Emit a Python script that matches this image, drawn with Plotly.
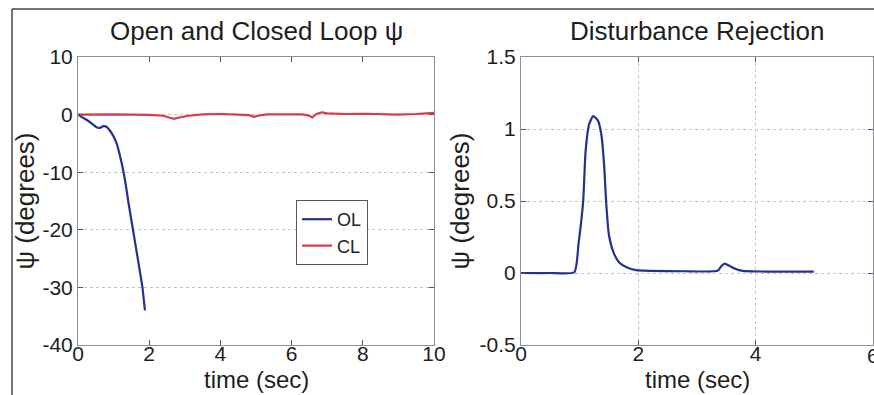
import plotly.graph_objects as go

# ---- data ----
ol_t = [0, 0.24, 0.4, 0.52, 0.62, 0.71, 0.8, 0.9, 1.0, 1.09, 1.18, 1.27, 1.35, 1.41, 1.48, 1.55, 1.62, 1.69, 1.75, 1.81, 1.88]
ol_y = [0, -0.9, -1.6, -2.2, -2.3, -2.0, -2.1, -2.8, -3.8, -5.1, -7.2, -9.7, -12.5, -15, -17.6, -20.2, -22.8, -25.4, -27.7, -30, -34]

cl_t = [0, 1, 2, 2.4, 2.6, 2.7, 2.85, 3.1, 3.5, 4, 4.5, 4.8, 4.95, 5.05, 5.3, 5.8, 6.3, 6.5, 6.58, 6.7, 6.85, 7.0, 7.5, 8, 8.5, 9, 9.5, 10]
cl_y = [0, 0.05, -0.05, -0.2, -0.6, -0.75, -0.5, -0.2, 0.05, 0.1, 0, -0.1, -0.4, -0.2, 0.05, 0.1, 0.05, -0.2, -0.5, 0.1, 0.4, 0.2, 0.1, 0.15, 0.05, 0.0, 0.1, 0.3]

dr_t = [0, 0.5, 0.91, 0.98, 1.06, 1.1, 1.16, 1.23, 1.31, 1.37, 1.42, 1.45, 1.5, 1.58, 1.67, 1.8, 1.96, 2.2, 2.8, 3.35, 3.42, 3.47, 3.55, 3.65, 3.78, 4.2, 4.99]
dr_y = [0, 0, 0.005, 0.2, 0.5, 0.84, 1.03, 1.09, 1.06, 0.96, 0.73, 0.5, 0.26, 0.14, 0.075, 0.04, 0.02, 0.015, 0.012, 0.015, 0.05, 0.065, 0.05, 0.03, 0.015, 0.01, 0.01]

left_xticks = [0, 2, 4, 6, 8, 10]
left_xticklabels = ["0", "2", "4", "6", "8", "10"]
left_yticks = [-40, -30, -20, -10, 0, 10]
left_yticklabels = ["-40", "-30", "-20", "-10", "0", "10"]
right_xticks = [0, 2, 4, 6]
right_xticklabels = ["0", "2", "4", "6"]
right_yticks = [-0.5, 0, 0.5, 1, 1.5]
right_yticklabels = ["-0.5", "0", "0.5", "1", "1.5"]

left_title = "Open and Closed Loop ψ"
right_title = "Disturbance Rejection"
xlabel = "time (sec)"
ylabel = "ψ (degrees)"

BLUE = "#27318c"
RED = "#d8394c"
FONT = "Liberation Sans, Arial, sans-serif"
TXT = "#1e1e1e"

fig = go.Figure()
fig.add_trace(go.Scatter(x=ol_t, y=ol_y, mode="lines", name="OL",
                         line=dict(color=BLUE, width=2.2, shape="spline", smoothing=0.5),
                         xaxis="x", yaxis="y"))
fig.add_trace(go.Scatter(x=cl_t, y=cl_y, mode="lines", name="CL",
                         line=dict(color=RED, width=2.2), xaxis="x", yaxis="y"))
fig.add_trace(go.Scatter(x=dr_t, y=dr_y, mode="lines", name="DR", showlegend=False,
                         line=dict(color=BLUE, width=2.2, shape="spline", smoothing=0.5),
                         xaxis="x2", yaxis="y2"))

W, H = 874, 395
L, R, T, B = 78, 0, 57, 50
pw = W - L - R
ph = H - T - B

def px(x):
    return (x - L) / pw

def py(y):
    return (H - B - y) / ph

axis_common = dict(showline=True, linecolor="#8a8f9c", linewidth=1, mirror="ticks",
                   ticks="inside", ticklen=5, tickcolor="#555",
                   tickfont=dict(size=21, color=TXT, family=FONT),
                   zeroline=False, automargin=False)

# the last right-hand x tick label sits on the page edge; draw it as an annotation
# so it is clipped like the reference instead of pushing the margin
right_xticktext_drawn = right_xticklabels[:-1] + [""]

fig.update_layout(
    width=W, height=H,
    margin=dict(l=L, r=R, t=T, b=B, autoexpand=False),
    paper_bgcolor="white", plot_bgcolor="white",
    font=dict(family=FONT, color=TXT),
    xaxis=dict(domain=[0, px(434)], range=[0, 10], tickvals=left_xticks, ticktext=left_xticklabels,
               showgrid=False, anchor="y", ticklabelstandoff=-10, **axis_common),
    yaxis=dict(domain=[0, 1], range=[-40, 10], tickvals=left_yticks, ticktext=left_yticklabels,
               showgrid=True, gridcolor="#c4c4c4", griddash="dot", anchor="x",
               title=dict(text=ylabel, font=dict(size=26), standoff=0), **axis_common),
    xaxis2=dict(domain=[px(521), px(873)], range=[0, 6], tickvals=right_xticks, ticktext=right_xticktext_drawn,
                showgrid=True, gridcolor="#c4c4c4", griddash="dot", anchor="y2",
                ticklabelstandoff=-10, **axis_common),
    yaxis2=dict(domain=[0, 1], range=[-0.5, 1.5], tickvals=right_yticks, ticktext=right_yticklabels,
                showgrid=True, gridcolor="#c4c4c4", griddash="dot", anchor="x2",
                title=dict(text=ylabel, font=dict(size=26), standoff=2), **axis_common),
    legend=dict(x=px(296), y=py(200), xanchor="left", yanchor="top",
                bordercolor="#555", borderwidth=1, bgcolor="white",
                font=dict(size=18, color=TXT, family=FONT),
                tracegroupgap=0, itemwidth=30),
    showlegend=True,
    annotations=[
        dict(text=left_title, x=px(256), y=py(31), xref="paper", yref="paper",
             xanchor="center", yanchor="middle", showarrow=False,
             font=dict(size=26, color=TXT, family=FONT)),
        dict(text=right_title, x=px(697), y=py(31), xref="paper", yref="paper",
             xanchor="center", yanchor="middle", showarrow=False,
             font=dict(size=26, color=TXT, family=FONT)),
        dict(text=xlabel, x=px(256), y=py(379.5), xref="paper", yref="paper",
             xanchor="center", yanchor="middle", showarrow=False,
             font=dict(size=24, color=TXT, family=FONT)),
        dict(text=xlabel, x=px(697), y=py(379.5), xref="paper", yref="paper",
             xanchor="center", yanchor="middle", showarrow=False,
             font=dict(size=24, color=TXT, family=FONT)),
        dict(text=right_xticklabels[-1], x=right_xticks[-1], y=py(355), xref="x2", yref="paper",
             xanchor="center", yanchor="middle", showarrow=False,
             font=dict(size=21, color=TXT, family=FONT)),
    ],
    shapes=[
        dict(type="line", xref="paper", yref="paper", x0=px(12), x1=px(874), y0=py(9), y1=py(9),
             line=dict(color="#444", width=1.5)),
        dict(type="line", xref="paper", yref="paper", x0=px(12), x1=px(12), y0=py(9), y1=py(400),
             line=dict(color="#444", width=1.5)),
    ],
)

fig.write_html("out.html")
